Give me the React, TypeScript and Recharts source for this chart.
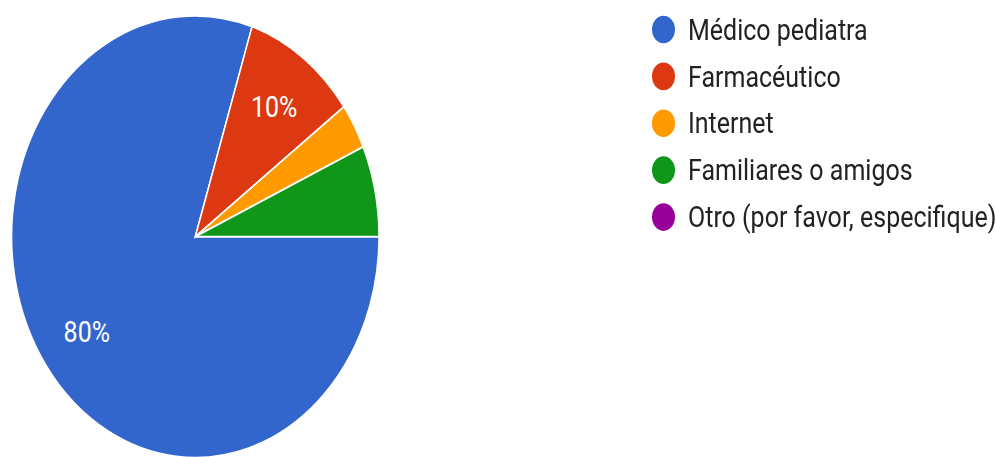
import React from 'react';
import { PieChart, Pie, Cell, Legend } from 'recharts';

// Answers and their share of responses (30 responses)
const CATEGORIES = [
  'Médico pediatra',
  'Farmacéutico',
  'Internet',
  'Familiares o amigos',
  'Otro (por favor, especifique)',
];
const VALUES = [24, 3, 1, 2, 0];
const COLORS = ['#3366CC', '#DC3912', '#FF9900', '#109618', '#990099'];

const W = 995;
const H = 380;
const STRETCH = 457 / H; // the reference is stretched vertically
const FONT = 'Roboto, "Noto Sans", Arial, sans-serif';
const RAD = Math.PI / 180;

const pieData = CATEGORIES.map((name, i) => ({ name, value: VALUES[i], fill: COLORS[i] }));

function SliceLabel({ cx, cy, midAngle, outerRadius, percent }: any) {
  if (percent < 0.075) return null;
  const r = outerRadius * 0.73;
  const x = cx + r * Math.cos(-midAngle * RAD);
  const y = cy + r * Math.sin(-midAngle * RAD);
  return (
    <text x={x} y={y} fill="#fff" textAnchor="middle" dominantBaseline="central"
      style={{ fontFamily: FONT, fontSize: 25 }}>
      {`${Math.round(percent * 100)}%`}
    </text>
  );
}

function LegendList() {
  return (
    <div style={{ fontFamily: FONT }}>
      {CATEGORIES.map((name, i) => (
        <div key={name} style={{ display: 'flex', alignItems: 'center', height: 38.8 }}>
          <div style={{ width: 23, height: 23, borderRadius: '50%', background: COLORS[i], flexShrink: 0 }} />
          <span style={{ marginLeft: 13, fontSize: 25, color: '#222', whiteSpace: 'nowrap' }}>{name}</span>
        </div>
      ))}
    </div>
  );
}

export default function App() {
  return (
    <div style={{
      position: 'absolute', left: 0, top: 0, width: W, height: H,
      transform: `scaleY(${STRETCH})`, transformOrigin: 'top left', background: '#fff',
    }}>
      <PieChart width={W} height={H} margin={{ top: 0, right: 0, bottom: 0, left: 0 }}>
        <Pie
          data={pieData}
          dataKey="value"
          nameKey="name"
          cx={195.3}
          cy={196.8}
          outerRadius={183.7}
          startAngle={0}
          endAngle={-360}
          stroke="#fff"
          strokeWidth={1.5}
          label={SliceLabel}
          labelLine={false}
          isAnimationActive={false}
        >
          {pieData.map((d, i) => (
            <Cell key={d.name} fill={COLORS[i]} />
          ))}
        </Pie>
        <Legend
          layout="vertical"
          verticalAlign="top"
          align="right"
          content={<LegendList />}
          wrapperStyle={{ left: 652, top: 5.5, width: 340 }}
        />
      </PieChart>
    </div>
  );
}
